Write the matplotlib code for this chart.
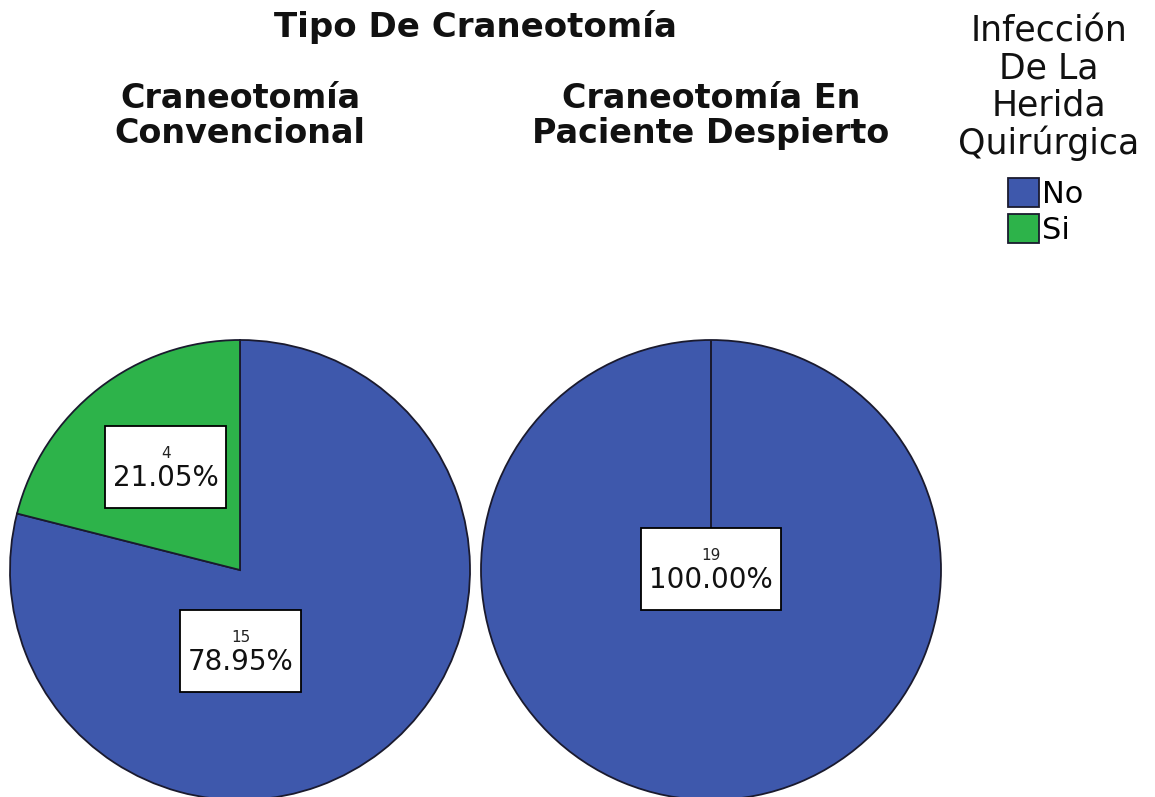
import matplotlib.pyplot as plt
from matplotlib.offsetbox import TextArea, VPacker, DrawingArea, AnnotationBbox

# datos
grupos = ['Craneotomía\nConvencional', 'Craneotomía En\nPaciente Despierto']
categorias = ['No', 'Si']
conteos = [[15, 4], [19, 0]]
colores = ['#3E58AC', '#2DB34A']

titulo = 'Tipo De Craneotomía'
titulo_leyenda = 'Infección\nDe La\nHerida\nQuirúrgica'

# posiciones de las etiquetas (en radios del pastel), orden No, Si
pos_etiquetas = [[(0.004, -0.352), (-0.322, 0.448)], [(0.0, 0.004), None]]

fig = plt.figure(figsize=(11.55, 7.97), dpi=100)
W, H = 1155, 797

def eje_pastel(cx, cy, r):
    return fig.add_axes([(cx - r) / W, (H - cy - r) / H, 2 * r / W, 2 * r / H])

centros = [(240, 570), (711, 570)]
radio = 230
borde = '#1a1a2e'
wedges_leyenda = None

for i, (g, vals) in enumerate(zip(grupos, conteos)):
    ax = eje_pastel(centros[i][0], centros[i][1], radio)
    total = sum(vals)
    wedges, _ = ax.pie(vals, colors=colores, startangle=90, counterclock=False,
                       wedgeprops=dict(edgecolor=borde, linewidth=1.3))
    ax.set_xlim(-1, 1)
    ax.set_ylim(-1, 1)
    ax.set_aspect('equal')
    ax.axis('off')
    if i == 0:
        wedges_leyenda = wedges
    # borde radial para el sector completo
    for w, v in zip(wedges, vals):
        if v == total:
            ax.plot([w.center[0], w.center[0]], [w.center[1], w.center[1] + w.r],
                    color=borde, lw=1.3)
    for j, v in enumerate(vals):
        if v == 0:
            continue
        pct = 100.0 * v / total
        caja = VPacker(children=[
            DrawingArea(1, 7),
            TextArea(str(v), textprops=dict(fontsize=11, color='#222222')),
            TextArea('%.2f%%' % pct, textprops=dict(fontsize=20, color='#111111')),
            DrawingArea(1, 4),
        ], align='center', pad=0, sep=2)
        ab = AnnotationBbox(caja, pos_etiquetas[i][j], frameon=True, pad=0.55,
                            bboxprops=dict(facecolor='white', edgecolor='black', lw=1.3))
        ax.add_artist(ab)
    fig.text(centros[i][0] / W, 1 - 116 / H, g, ha='center', va='center',
             fontsize=24, fontweight='bold', linespacing=1.1, color='#111111')

fig.text(475 / W, 1 - 27 / H, titulo, ha='center', va='center',
         fontsize=24.5, fontweight='bold', color='#111111')

fig.text(1049 / W, 1 - 15 / H, titulo_leyenda, ha='center', va='top',
         fontsize=25, linespacing=1.1, multialignment='center', color='#111111')

leg = fig.legend(wedges_leyenda, categorias, loc='upper left',
                 bbox_to_anchor=(1008 / W, 1 - 178 / H),
                 frameon=False, fontsize=22, borderpad=0, borderaxespad=0,
                 handlelength=1.0, handleheight=1.1, handletextpad=0.1,
                 labelspacing=0.15)

fig.savefig('out.png', dpi=100)
